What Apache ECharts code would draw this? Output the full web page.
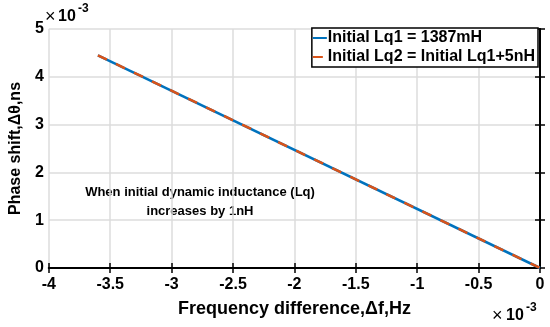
<!DOCTYPE html>
<html><head><meta charset="utf-8">
<script src="https://cdn.jsdelivr.net/npm/echarts@6/dist/echarts.min.js"></script>
<style>html,body{margin:0;padding:0;background:#fff}#c{width:550px;height:327px}</style>
</head><body><div id="c"></div>
<script>
var xTicks = [-4, -3.5, -3, -2.5, -2, -1.5, -1, -0.5, 0];
var yTicks = [0, 1, 2, 3, 4, 5];
var freqDiff = [-3.6, 0];
var phaseLq1 = [4.45, 0];
var phaseLq2 = [4.45, 0];
var seriesNames = ['Initial Lq1 = 1387mH', 'Initial Lq2 = Initial Lq1+5nH'];
var annotation = ['When initial dynamic inductance (Lq)', 'increases by 1nH'];

var chart = echarts.init(document.getElementById('c'));
var font = '"Liberation Sans", Arial, sans-serif';
function pairs(xs, ys){ return xs.map(function(x,i){return [x, ys[i]];}); }
function txt(t, size, bold, extra){
  var s = {text:t, fontFamily:font, fontSize:size, fontWeight:bold?'bold':'normal', fill:'#000'};
  for (var k in (extra||{})) s[k] = extra[k];
  return s;
}
var axisLine = {show:true, lineStyle:{color:'#000', width:2}};
var tick = {show:true, inside:true, length:5, lineStyle:{color:'#000', width:1.5}};
var grid = {show:true, lineStyle:{color:'#dcdcdc', width:1.5}};
var labelStyle = {color:'#000', fontFamily:font, fontWeight:'bold', fontSize:16};
chart.setOption({
  animation:false,
  grid:{left:43, right:10, top:29, bottom:59},
  legend:{
    data:[{name:seriesNames[0]},{name:seriesNames[1]}],
    orient:'vertical', right:12, top:28, itemGap:3, itemWidth:14, itemHeight:2,
    borderColor:'#000', borderWidth:1.5, padding:[2,3,2,0], backgroundColor:'#fff',
    textStyle:{color:'#000', fontFamily:font, fontWeight:'bold', fontSize:16, padding:[0,0,0,-4]}
  },
  xAxis:[{
    type:'value', min:-4, max:0, interval:0.5,
    axisLine:axisLine, axisTick:tick, splitLine:grid,
    axisLabel:Object.assign({margin:9, formatter:function(v){return String(v);}}, labelStyle),
    name:'Frequency difference,\u0394f,Hz', nameLocation:'middle', nameGap:32,
    nameTextStyle:{color:'#000', fontFamily:font, fontWeight:'bold', fontSize:18}
  },{
    type:'value', position:'top', min:-4, max:0, interval:0.5,
    axisLine:axisLine, axisTick:tick, axisLabel:{show:false}, splitLine:{show:false}
  }],
  yAxis:[{
    type:'value', min:0, max:5, interval:1,
    axisLine:axisLine, axisTick:tick, splitLine:grid,
    axisLabel:Object.assign({margin:5}, labelStyle),
    name:'Phase shift,\u0394\u03b8,ns', nameLocation:'middle', nameGap:18,
    nameTextStyle:{color:'#000', fontFamily:font, fontWeight:'bold', fontSize:16}
  },{
    type:'value', position:'right', min:0, max:5, interval:1,
    axisLine:axisLine, axisTick:tick, axisLabel:{show:false}, splitLine:{show:false}
  }],
  series:[{
    name:seriesNames[0], type:'line', data:pairs(freqDiff, phaseLq1), symbol:'none',
    lineStyle:{color:'#0072BD', width:2.5}, itemStyle:{color:'#0072BD'}
  },{
    name:seriesNames[1], type:'line', data:pairs(freqDiff, phaseLq2), symbol:'none',
    lineStyle:{color:'#D95319', width:2.5, type:[10,10]}, itemStyle:{color:'#D95319'}
  }],
  graphic:[
    {type:'text', left:45, top:8, style:txt('\u00d7', 18, false)},
    {type:'text', left:58, top:9, style:txt('10', 16, true)},
    {type:'text', left:78, top:3, style:txt('-3', 12, true)},
    {type:'text', left:492, top:307, style:txt('\u00d7', 18, false)},
    {type:'text', left:506, top:308, style:txt('10', 16, true)},
    {type:'text', left:526, top:302, style:txt('-3', 12, true)},
    {type:'text', x:200, y:183, style:txt(annotation.join('\n'), 13, true, {align:'center', lineHeight:19})}
  ]
});
</script></body></html>
